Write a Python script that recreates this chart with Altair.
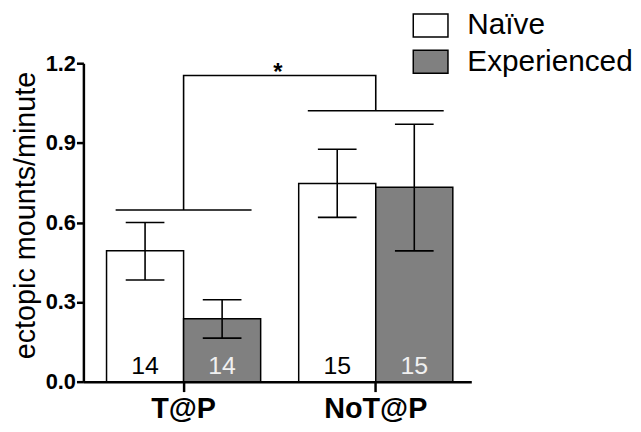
import altair as alt
import pandas as pd

# ---- data ----
groups = ["T@P", "T@P", "NoT@P", "NoT@P"]
conditions = ["Naïve", "Experienced", "Naïve", "Experienced"]
means = [0.493, 0.237, 0.747, 0.733]
err_hi = [0.600, 0.309, 0.876, 0.970]
err_lo = [0.383, 0.164, 0.619, 0.493]
n_labels = ["14", "14", "15", "15"]

sig_groups = ["T@P", "NoT@P"]
sig_levels = [0.647, 1.021]

bracket_x = ["T@P", "T@P", "NoT@P", "NoT@P"]
bracket_y = [0.647, 1.154, 1.154, 1.021]
bracket_order = [0, 1, 2, 3]

group_order = ["T@P", "NoT@P"]
cond_order = ["Naïve", "Experienced"]

FONT = "Liberation Sans"

df = pd.DataFrame({"group": groups, "condition": conditions, "mean": means,
                   "hi": err_hi, "lo": err_lo, "n": n_labels})
sig_df = pd.DataFrame({"group": sig_groups, "level": sig_levels})
br_df = pd.DataFrame({"group": bracket_x, "y": bracket_y, "o": bracket_order})

xscale = alt.Scale(domain=group_order, paddingInner=0.198, paddingOuter=0.1083, align=0.556)
xenc = alt.X("group:N", scale=xscale, sort=group_order,
             axis=alt.Axis(title=None, labelFont=FONT, labelFontWeight="bold", labelFontSize=29,
                           labelColor="black", labelAngle=0, labelBaseline="alphabetic",
                           labelPadding=26,
                           tickSize=10, tickWidth=2.5, tickColor="black",
                           domainColor="black", domainWidth=2.5))
xoff = alt.XOffset("condition:N", sort=cond_order,
                   scale=alt.Scale(domain=cond_order, paddingInner=0, paddingOuter=0))
yscale = alt.Scale(domain=[0, 1.2], nice=False)
yenc = alt.Y("mean:Q", scale=yscale,
             axis=alt.Axis(title="ectopic mounts/minute", values=[0, 0.3, 0.6, 0.9, 1.2], format=".1f",
                           labelFont=FONT, labelFontWeight="bold", labelFontSize=22, labelColor="black",
                           labelPadding=1, tickSize=7, tickWidth=2.5, tickColor="black",
                           domainColor="black", domainWidth=2.5, grid=False,
                           titleFont=FONT, titleFontWeight="normal", titleFontSize=29, titleColor="black",
                           titleX=-43, titleY=153, titleAngle=270, titleBaseline="bottom",
                           titleAlign="center"))

legend = alt.Legend(orient="none", legendX=335, legendY=-53, title=None, padding=0,
                    symbolType="M-1.5,-1L1.5,-1L1.5,1L-1.5,1Z", symbolSize=544,
                    symbolStrokeColor="black", symbolStrokeWidth=1.5, symbolOpacity=1,
                    labelFont=FONT, labelFontSize=30, labelColor="black", labelOffset=22,
                    labelLimit=0, rowPadding=6.5)

bars = alt.Chart(df).mark_bar(stroke="black", strokeWidth=1.5).encode(
    x=xenc, xOffset=xoff, y=yenc,
    fill=alt.Fill("condition:N", sort=cond_order,
                  scale=alt.Scale(domain=cond_order, range=["#ffffff", "#808080"]), legend=legend),
)

err_rule = alt.Chart(df).mark_rule(color="black", strokeWidth=1.6).encode(
    x=alt.X("group:N", sort=group_order), xOffset=xoff, y=alt.Y("lo:Q", scale=yscale), y2="hi:Q")
cap_hi = alt.Chart(df).mark_tick(color="black", thickness=1.6, size=39, opacity=1).encode(
    x=alt.X("group:N", sort=group_order), xOffset=xoff, y=alt.Y("hi:Q", scale=yscale))
cap_lo = alt.Chart(df).mark_tick(color="black", thickness=1.6, size=39, opacity=1).encode(
    x=alt.X("group:N", sort=group_order), xOffset=xoff, y=alt.Y("lo:Q", scale=yscale))

ntext = alt.Chart(df).mark_text(font=FONT, fontSize=25, baseline="alphabetic", dy=-8).encode(
    x=alt.X("group:N", sort=group_order), xOffset=xoff, y=alt.datum(0),
    text="n:N",
    color=alt.Color("condition:N", sort=cond_order,
                    scale=alt.Scale(domain=cond_order, range=["#000000", "#f0f0f0"]), legend=None))

sig = alt.Chart(sig_df).mark_tick(color="black", thickness=1.6, size=137, opacity=1).encode(
    x=alt.X("group:N", sort=group_order), y=alt.Y("level:Q", scale=yscale))

bracket = alt.Chart(br_df).mark_line(color="black", strokeWidth=1.6).encode(
    x=alt.X("group:N", sort=group_order), y=alt.Y("y:Q", scale=yscale), order="o:Q")

star = alt.Chart(pd.DataFrame({"t": ["*"]})).mark_text(
    font=FONT, fontSize=24, fontWeight="bold", baseline="alphabetic", dx=95, dy=5, color="black").encode(
    x=alt.datum("T@P"), y=alt.datum(1.154), text="t:N")

chart = alt.layer(bars, err_rule, cap_hi, cap_lo, ntext, sig, bracket, star).properties(
    width=391, height=321,
    autosize=alt.AutoSizeParams(type="none"),
    padding={"left": 76, "top": 54, "right": 163, "bottom": 40},
    background="white",
).resolve_scale(color="independent", fill="independent").configure_view(stroke=None)

chart.save("out.html", embed_options={"renderer": "svg", "actions": False})
